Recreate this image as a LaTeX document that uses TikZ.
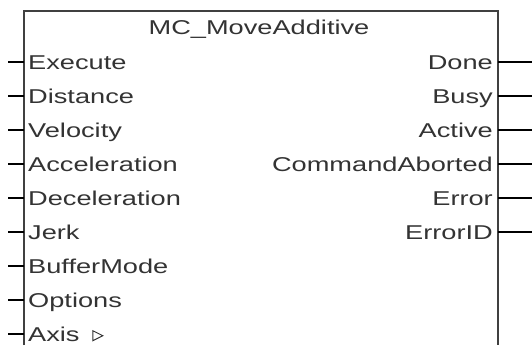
\documentclass[tikz,border=0pt]{standalone}
\usepackage{fontspec}
\setmainfont{Liberation Sans}[FakeStretch=1.36]
\usetikzlibrary{positioning,calc}
\definecolor{frame}{RGB}{64,64,64}
\tikzstyle{pinlbl} = [inner sep=0pt, font=\fontsize{20}{24}\selectfont, text=black!80]
\tikzstyle{pin} = [line width=1.4pt, black]
\tikzstyle{fbbox} = [line width=2pt, draw=frame]

\begin{document}
\begin{tikzpicture}[x=1pt, y=-1pt]
                \useasboundingbox (0,0) rectangle (532,345);
                % block outline, open at the bottom
                \draw[fbbox] (24,345) -- (24,11) -- (498,11) -- (498,345);
                \node[pinlbl, anchor=base] (title) at (259,35) {MC\_MoveAdditive};
                
                % inputs
                \foreach \name/\txt [count=\i from 0] in {exe/Execute, dist/Distance, vel/Velocity, acc/Acceleration, dec/Deceleration, jerk/Jerk, buf/BufferMode, opt/Options, axis/Axis} {
                    \node[pinlbl, anchor=base west] (\name) at (28,62+34*\i+7.2) {\txt};
                    \coordinate (\name pin) at (8,62+34*\i);
                    \draw[pin] (\name pin) -- (\name pin -| 24,0);
                }
                % reference marker of the axis input
                \draw[line width=1pt, black!80] ($(axis.base east)+(13,-0.5)$) -- ++(0,-10) -- ++(10,5) -- cycle;
                
                % outputs
                \foreach \name/\txt [count=\i from 0] in {done/Done, busy/Busy, act/Active, abrt/CommandAborted, err/Error, errid/ErrorID} {
                    \node[pinlbl, anchor=base east] (\name) at (493,62+34*\i+7.2) {\txt};
                    \coordinate (\name pin) at (532,62+34*\i);
                    \draw[pin] (\name pin) -- (\name pin -| 498,0);
                }
            \end{tikzpicture}
\end{document}
